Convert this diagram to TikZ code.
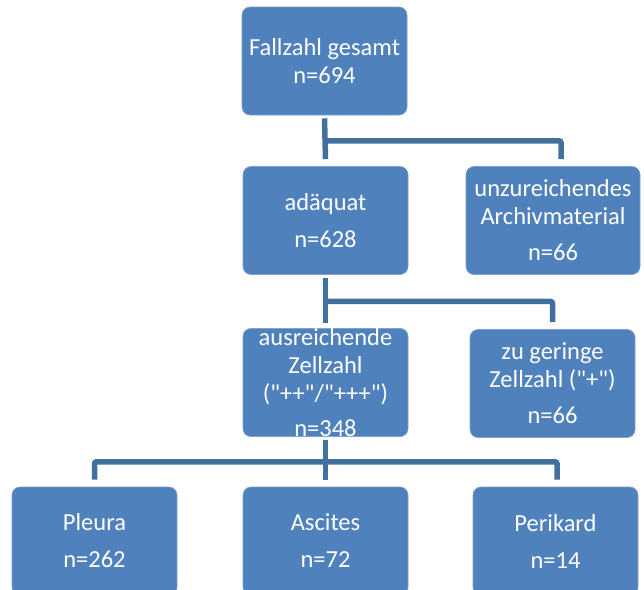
\documentclass[tikz,border=0pt]{standalone}
\usepackage{fontspec}
\setmainfont{Carlito}[Ligatures=TeXOff]
\usetikzlibrary{calc}
\definecolor{boxblue}{HTML}{4F81BD}
\definecolor{linkblue}{HTML}{41709F}

\begin{document}
\begin{tikzpicture}
	[x=1pt,y=-1pt,
	box/.style={rectangle, rounded corners=8pt, fill=boxblue, draw=boxblue!75!white, line width=0.6pt,
		text=white, align=center, inner sep=0pt, minimum width=165pt, minimum height=108pt,
		font=\fontsize{24.5}{28}\selectfont},
	link/.style={draw=linkblue, line width=5.5pt, rounded corners=2pt}];

	\useasboundingbox (0,0) rectangle (644,589);
	\clip (0,0) rectangle (644,589);

	%Level 1
	\node[box] (root) at (324.5,61) {Fallzahl gesamt\\n=694};

	%Level 2
	\node[box] (adaequat) at (325.5,220.5) {adäquat\\[9pt]n=628};
	\node[box, minimum width=174pt] (archiv) at (553,220.5) {unzureichendes\\Archivmaterial\\[8pt]n=66};

	%Level 3
	\node[box] (ausreichend) at (325.5,382.5) {ausreichende\\Zellzahl\\("++"/"+++")\\[7pt]n=348};
	\node[box] (gering) at (552.5,383.5) {zu geringe\\Zellzahl ("+")\\[8pt]n=66};

	%Level 4
	\node[box] (pleura) at (94.5,541) {Pleura\\[9pt]n=262};
	\node[box] (ascites) at (325.5,541) {Ascites\\[9pt]n=72};
	\node[box] (perikard) at (555.5,541) {Perikard\\[9pt]n=14};

	%Connectors
	\coordinate (j1) at ($(root.south)!0.5!(adaequat.north)$);
	\coordinate (j2) at ($(adaequat.south)!0.5!(ausreichend.north)$);
	\coordinate (j3) at ($(ausreichend.south)!0.5!(ascites.north)$);
	\coordinate (e1) at ($(archiv.north)+(8,-7)$);

	\draw[link] ([yshift=-3pt]root.south) -- ([yshift=7pt]adaequat.north);
	\draw[link] (j1) -| (e1);

	\draw[link] ([yshift=-3pt]adaequat.south) -- ([yshift=5pt]ausreichend.north);
	\draw[link] (j2) -| ([yshift=7pt]gering.north);

	\draw[link] ([yshift=-3pt]ausreichend.south) -- ([yshift=7pt]ascites.north);
	\draw[link] (j3) -| ([yshift=7pt]pleura.north);
	\draw[link] (j3) -| ([xshift=1.5pt,yshift=7pt]perikard.north);
\end{tikzpicture}
\end{document}
